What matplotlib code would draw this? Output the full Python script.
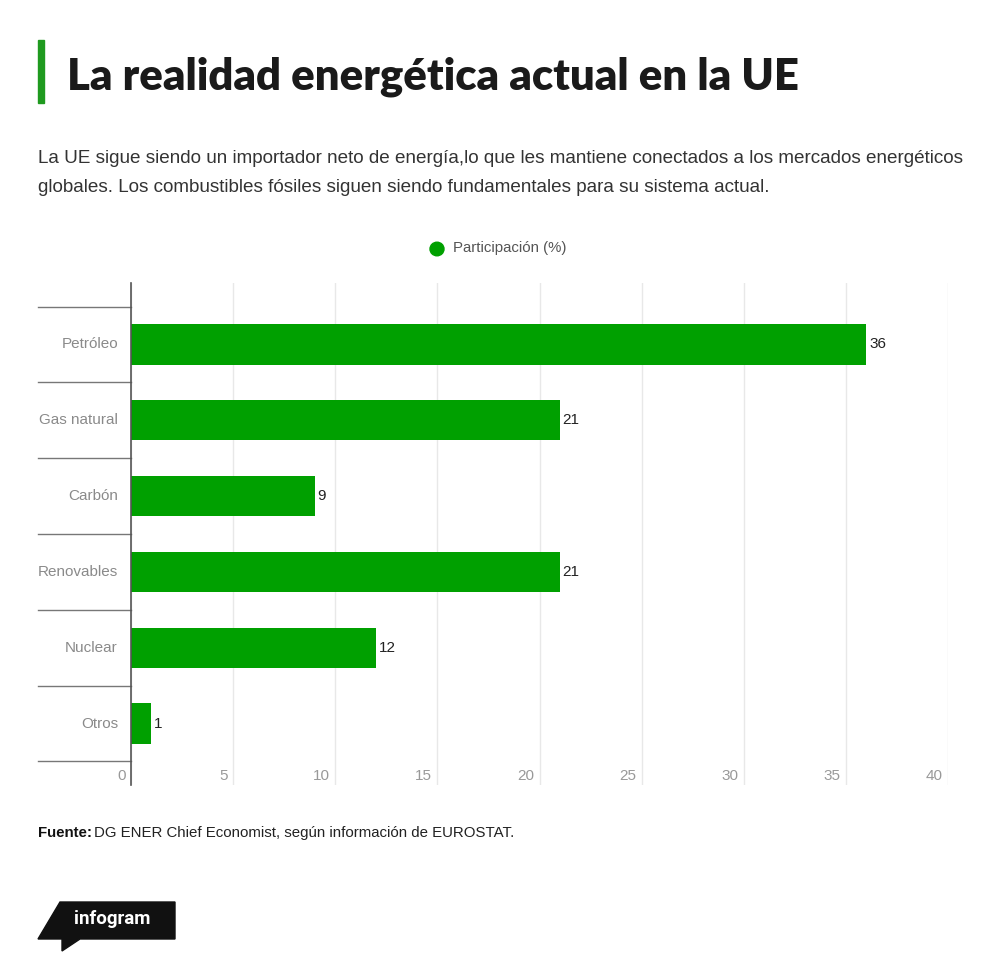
import matplotlib
matplotlib.use("Agg")
import matplotlib.pyplot as plt
import matplotlib.transforms as mtransforms
from matplotlib.patches import Polygon, Rectangle, Circle

plt.rcParams['font.family'] = ['Liberation Sans', 'DejaVu Sans']

# datos
categorias = ['Petróleo', 'Gas natural', 'Carbón', 'Renovables', 'Nuclear', 'Otros']
participacion = [36, 21, 9, 21, 12, 1]
x_ticks = [0, 5, 10, 15, 20, 25, 30, 35, 40]

titulo = 'La realidad energética actual en la UE'
subtitulo = ('La UE sigue siendo un importador neto de energía,lo que les mantiene conectados a los mercados energéticos\n'
             'globales. Los combustibles fósiles siguen siendo fundamentales para su sistema actual.')
serie = 'Participación (%)'
fuente = 'DG ENER Chief Economist, según información de EUROSTAT.'

VERDE = '#00a000'
W, H = 1000, 971


def fx(x):
    return x / W


def fy(y):
    return 1 - y / H


fig = plt.figure(figsize=(10, 9.71), dpi=100)
fig.patch.set_facecolor('white')

ax = fig.add_axes([fx(131), fy(785), fx(948) - fx(131), fy(283) - fy(785)])
pos = list(range(len(categorias)))
ax.barh(pos, participacion, height=0.53, color=VERDE, zorder=3)
ax.set_xlim(0, 40)
ax.set_ylim(len(categorias) - 0.5 + 0.31, -0.5 - 0.31)

for s in ['top', 'right', 'bottom']:
    ax.spines[s].set_visible(False)
ax.spines['left'].set_color('#555555')
ax.spines['left'].set_linewidth(1.2)
ax.spines['left'].set_zorder(5)
ax.set_xticks(x_ticks)
ax.tick_params(axis='both', length=0, labelbottom=False, labelleft=False)
ax.set_yticks([])
ax.grid(axis='x', color='#e8e8e8', linewidth=1, zorder=0)

# valores
for p, v in zip(pos, participacion):
    ax.annotate(str(v), (v, p), xytext=(2, 0), textcoords='offset points',
                ha='left', va='center', fontsize=11, color='#222222')

# etiquetas de categoría y separadores
trans = mtransforms.blended_transform_factory(fig.transFigure, ax.transData)
for p, c in zip(pos, categorias):
    ax.text(fx(118), p, c, transform=trans, ha='right', va='center',
            fontsize=11, color='#8a8a8a')
for b in range(len(categorias) + 1):
    ax.plot([fx(38), fx(131)], [b - 0.5, b - 0.5], transform=trans,
            color='#777777', linewidth=1, clip_on=False)

# etiquetas eje x dentro del área
for t in x_ticks:
    ax.annotate(str(t), (t, len(categorias) - 0.5), xytext=(-4, -10.5),
                textcoords='offset points', ha='right', va='center',
                fontsize=11, color='#999999')

# título (ajustado al ancho del original)
fig.patches.append(Rectangle((fx(38), fy(103)), fx(6), fy(40) - fy(103),
                             transform=fig.transFigure, color='#1f9a1f'))
tt = fig.text(fx(67), fy(77), titulo, fontsize=32, fontweight='heavy',
              color='#1a1a1a', ha='left', va='center', family=['Lato', 'DejaVu Sans'])
fig.canvas.draw()
w = tt.get_window_extent().width
tt.set_fontsize(32 * min(1.0, 733 / w))

fig.text(fx(38), fy(173), subtitulo, fontsize=13.6, color='#333333',
         ha='left', va='center', linespacing=1.9)

# leyenda
fig.patches.append(Circle((fx(437), fy(249)), 7 / W, transform=fig.transFigure,
                          color=VERDE))
fig.text(fx(453), fy(248), serie, fontsize=10.8, color='#555555',
         ha='left', va='center')

# fuente
t1 = fig.text(fx(38), fy(833), 'Fuente:', fontsize=10.8, fontweight='bold',
              color='#111111', ha='left', va='center')
fig.canvas.draw()
bb = t1.get_window_extent()
fig.text(bb.x1 / W + 2 / W, fy(833), fuente, fontsize=10.8, color='#222222',
         ha='left', va='center')

# logo infogram
logo = Polygon([(fx(60), fy(902)), (fx(175), fy(902)), (fx(175), fy(939)),
                (fx(80), fy(939)), (fx(62), fy(951)), (fx(62), fy(939)),
                (fx(38), fy(939))], closed=True, transform=fig.transFigure,
               color='#111111')
fig.patches.append(logo)
fig.text(fx(74), fy(919), 'infogram', fontsize=13.5, color='white', fontweight='bold',
         ha='left', va='center', family=['Roboto', 'DejaVu Sans'])

fig.savefig('out.png', dpi=100)
